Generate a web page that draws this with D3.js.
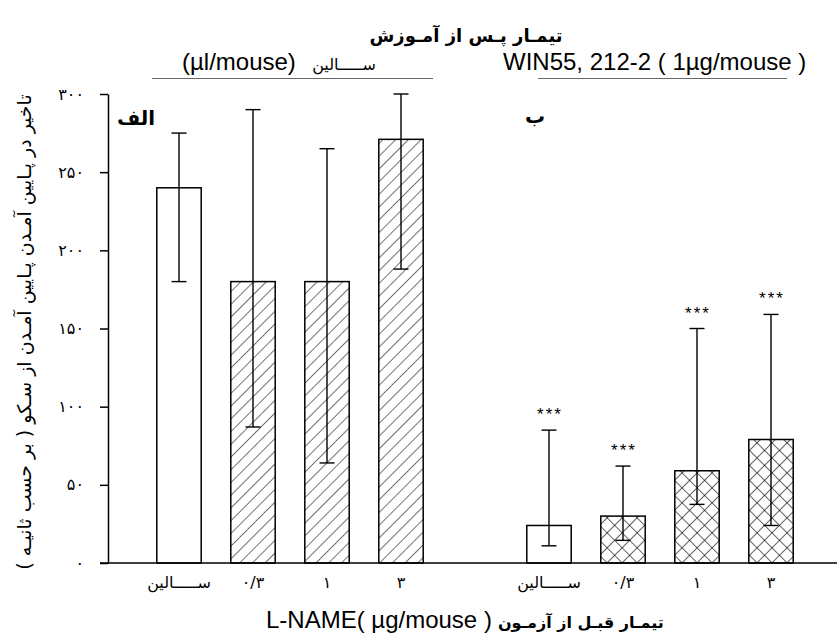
<!DOCTYPE html>
<html><head><meta charset="utf-8">
<script src="https://cdn.jsdelivr.net/npm/d3@7"></script>
<style>body{margin:0;background:#fff}</style>
</head><body><svg id="c" width="837" height="635"></svg>
<script>
// ---- data ----
const slots = ["s1","s2","s3","s4","gap","w1","w2","w3","w4"];
const categories = ["ســـــالین","۰/۳","۱","۳"];
const salineMeans = [240,180,180,271];
const salineErrHigh = [275,290,265,300];
const salineErrLow = [180,87,64,188];
const winMeans = [24,30,59,79];
const winErrHigh = [85,62,150,159];
const winErrLow = [11,14.5,37.5,24];
const winStars = ["***","***","***","***"];
const yTicks = [0,50,100,150,200,250,300];
const yTickLabels = ["۰","۵۰","۱۰۰","۱۵۰","۲۰۰","۲۵۰","۳۰۰"];

const rows = [];
categories.forEach((c,i)=>rows.push({slot:slots[i],label:c,mean:salineMeans[i],hi:salineErrHigh[i],lo:salineErrLow[i],fill:i===0?"#fff":"url(#hatch)",star:""}));
categories.forEach((c,i)=>rows.push({slot:slots[i+5],label:c,mean:winMeans[i],hi:winErrHigh[i],lo:winErrLow[i],fill:i===0?"#fff":"url(#cross)",star:winStars[i]}));

const svg = d3.select("#c");
const FA = "'DejaVu Sans', sans-serif";
const LAT = "'Liberation Sans', Arial, 'DejaVu Sans', sans-serif";

const x = d3.scaleBand().domain(slots).range([142,808]).paddingInner(0.4).paddingOuter(0.2);
const y = d3.scaleLinear().domain([0,300]).range([563,94]);

const defs = svg.append("defs");
const h = defs.append("pattern").attr("id","hatch").attr("patternUnits","userSpaceOnUse")
  .attr("width",9).attr("height",9).attr("patternTransform","rotate(45)");
h.append("rect").attr("width",9).attr("height",9).attr("fill","#fff");
h.append("line").attr("x1",0).attr("y1",0).attr("x2",0).attr("y2",9).attr("stroke","#000").attr("stroke-width",1.1);
const cr = defs.append("pattern").attr("id","cross").attr("patternUnits","userSpaceOnUse")
  .attr("width",10.6).attr("height",10.6).attr("patternTransform","rotate(45)");
cr.append("rect").attr("width",10.6).attr("height",10.6).attr("fill","#fff");
cr.append("line").attr("x1",0).attr("y1",0).attr("x2",0).attr("y2",10.6).attr("stroke","#000").attr("stroke-width",1.2);
cr.append("line").attr("x1",0).attr("y1",0).attr("x2",10.6).attr("y2",0).attr("stroke","#000").attr("stroke-width",1.2);

// bars
svg.append("g").selectAll("rect").data(rows).join("rect")
  .attr("x",d=>x(d.slot)).attr("width",x.bandwidth())
  .attr("y",d=>y(d.mean)).attr("height",d=>y(0)-y(d.mean))
  .attr("fill",d=>d.fill).attr("stroke","#000").attr("stroke-width",1.5);

// error bars
const eb = svg.append("g").attr("stroke","#000").attr("stroke-width",1.4);
rows.forEach(d=>{
  const cx = x(d.slot)+x.bandwidth()/2;
  eb.append("line").attr("x1",cx).attr("x2",cx).attr("y1",y(d.hi)).attr("y2",y(d.lo));
  eb.append("line").attr("x1",cx-7.5).attr("x2",cx+7.5).attr("y1",y(d.hi)).attr("y2",y(d.hi));
  eb.append("line").attr("x1",cx-7.5).attr("x2",cx+7.5).attr("y1",y(d.lo)).attr("y2",y(d.lo));
  if(d.star) svg.append("text").attr("x",cx+1).attr("y",y(d.hi)-10).attr("text-anchor","middle")
    .attr("font-family",LAT).attr("font-size",17).attr("letter-spacing",2).text(d.star);
});

// y axis
const yAxis = d3.axisLeft(y).tickValues(yTicks).tickSize(8).tickSizeOuter(0)
  .tickFormat((d,i)=>yTickLabels[i]);
const ga = svg.append("g").attr("transform","translate(108,0)").call(yAxis);
ga.select(".domain").attr("stroke","#000").attr("stroke-width",1.5);
ga.selectAll(".tick line").attr("stroke","#000").attr("stroke-width",1.5);
ga.selectAll(".tick text").attr("x",-24).attr("font-family",FA).attr("font-size",16).attr("fill","#000");

// baseline
svg.append("line").attr("x1",100).attr("x2",837).attr("y1",y(0)).attr("y2",y(0)).attr("stroke","#000").attr("stroke-width",1.5);

// x labels
svg.append("g").selectAll("text").data(rows).join("text")
  .attr("x",d=>x(d.slot)+x.bandwidth()/2).attr("y",588).attr("text-anchor","middle")
  .attr("font-family",FA).attr("font-size",16).text(d=>d.label);

// titles
svg.append("text").attr("x",466).attr("y",42).attr("text-anchor","middle").attr("font-family",FA)
  .attr("font-weight","bold").attr("font-size",18).text("تیمـار پـس از آمـوزش");
svg.append("text").attr("x",182).attr("y",70).attr("font-family",LAT)
  .attr("font-size",24).text("(µl/mouse)");
svg.append("text").attr("x",344).attr("y",70).attr("text-anchor","middle").attr("font-family",FA)
  .attr("font-size",16).text("ســـــالین");
svg.append("line").attr("x1",152).attr("x2",433).attr("y1",78.5).attr("y2",78.5).attr("stroke","#666").attr("stroke-width",1);
svg.append("text").attr("x",503).attr("y",70).attr("font-family",LAT)
  .attr("font-size",24).text("WIN55, 212-2 ( 1µg/mouse )");
svg.append("line").attr("x1",538).attr("x2",787).attr("y1",78.5).attr("y2",78.5).attr("stroke","#666").attr("stroke-width",1);

// panel labels
svg.append("text").attr("x",136).attr("y",125).attr("text-anchor","middle").attr("font-family",FA)
  .attr("font-weight","bold").attr("font-size",20).text("الف");
svg.append("text").attr("x",535).attr("y",123).attr("text-anchor","middle").attr("font-family",FA)
  .attr("font-weight","bold").attr("font-size",20).text("ب");

// y label
svg.append("text").attr("transform","translate(31,332) rotate(-90)").attr("text-anchor","middle")
  .attr("font-family",FA).attr("font-size",19)
  .text("تاخیر در پـایین آمـدن پـایین آمـدن از سـکو ( بر حسب ثانیـه )");

// x title
const t1 = svg.append("text").attr("x",266).attr("y",628).attr("font-family",LAT)
  .attr("font-size",24).text("L-NAME( µg/mouse )");
const w1 = t1.node().getComputedTextLength();
svg.append("text").attr("x",266+w1+6).attr("y",628).attr("text-anchor","end").attr("direction","rtl")
  .attr("font-family",FA).attr("font-weight","bold").attr("font-size",16).text("تیمـار قبـل از آزمـون");
</script></body></html>
